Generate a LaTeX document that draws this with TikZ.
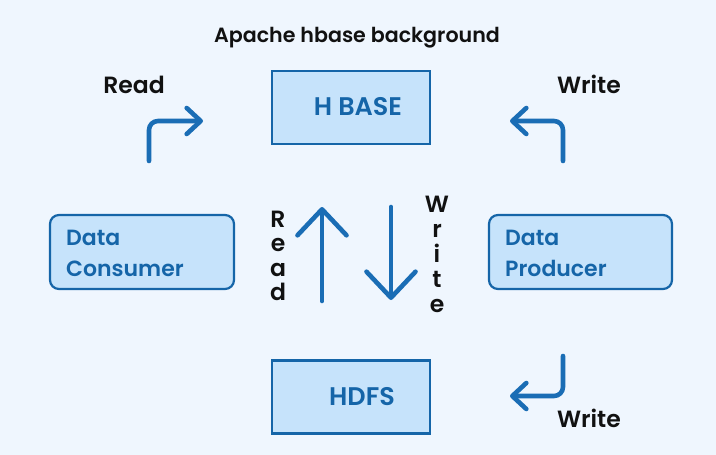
\documentclass[tikz,border=0pt]{standalone}
\usepackage{fontspec}
\setmainfont{Poppins}[BoldFont={Poppins SemiBold}]
\usetikzlibrary{arrows.meta}
\definecolor{bg}{HTML}{EFF6FE}
\definecolor{boxfill}{HTML}{C6E3FB}
\definecolor{boxline}{HTML}{1565A8}
\definecolor{arrowblue}{HTML}{1A6DB5}
\definecolor{inktext}{HTML}{111111}
\tikzset{
  sqbox/.style={draw=boxline, fill=boxfill, line width=2.2pt, minimum width=158pt, minimum height=73pt, inner sep=0pt},
  rndbox/.style={draw=boxline, fill=boxfill, line width=2.2pt, rounded corners=9pt},
  boxtext/.style={text=boxline, font=\fontsize{22}{22}\selectfont\bfseries, inner sep=0pt},
  bigboxtext/.style={text=boxline, font=\fontsize{25.5}{25.5}\selectfont\bfseries, inner sep=0pt},
  lbl/.style={text=inktext, font=\fontsize{23.5}{23.5}\selectfont\bfseries, inner sep=0pt},
  arr/.style={draw=arrowblue, line width=4.6pt, line cap=round, line join=round, rounded corners=9pt},
  smalltip/.style={-{Straight Barb[length=14pt,width=26pt,line cap=round,line join=round]}},
  bigtip/.style={-{Straight Barb[length=26pt,width=49pt,line cap=round,line join=round]}}
}
\begin{document}
\begin{tikzpicture}[x=1pt,y=-1pt]
\fill[bg] (0,0) rectangle (716,455);
\useasboundingbox (0,0) rectangle (716,455);

\node[text=inktext, font=\fontsize{20.6}{20.6}\selectfont\bfseries, anchor=base] (title) at (357,42) {Apache hbase background};

\node[sqbox] (hbase) at (351,107.5) {};
\node[bigboxtext, anchor=base] (hbasetxt) at (358,115) {H BASE};
\node[sqbox] (hdfs) at (351,397) {};
\node[bigboxtext, anchor=base] (hdfstxt) at (362,405) {HDFS};

\path[rndbox] (50,215) rectangle (234,289);
\coordinate (consumer) at (142,252);
\node[boxtext, anchor=base west] (c1) at (66,245) {Data};
\node[boxtext, anchor=base west] (c2) at (66,276) {Consumer};

\path[rndbox] (489,215) rectangle (672,289);
\coordinate (producer) at (580,252);
\node[boxtext, anchor=base west] (p1) at (505,245) {Data};
\node[boxtext, anchor=base west] (p2) at (505,276) {Producer};

\node[lbl, anchor=base] (readlbl) at (134,93) {Read};
\node[lbl, anchor=base] (writelbl) at (589,93) {Write};
\node[lbl, anchor=base] (writelbl2) at (589,427) {Write};

% corner arrows
\coordinate (a1s) at (149,161);
\coordinate (a1e) at (203,121);
\draw[arr, smalltip] (a1s) |- (a1e);
\coordinate (a2s) at (563,161);
\coordinate (a2e) at (510,121);
\draw[arr, smalltip] (a2s) |- (a2e);
\coordinate (a3s) at (563,356);
\coordinate (a3e) at (510,396);
\draw[arr, smalltip] (a3s) |- (a3e);

% middle arrows
\coordinate (upb) at (322,301);
\coordinate (upt) at (322,207);
\draw[arr, bigtip] (upb) -- (upt);
\coordinate (dnt) at (391,207);
\coordinate (dnb) at (391,300);
\draw[arr, bigtip] (dnt) -- (dnb);

% vertical labels
\foreach \ch [count=\i] in {R,e,a,d}
  \node[lbl, anchor=base] (rd\i) at (278,{227+24.5*(\i-1)}) {\ch};
\foreach \ch [count=\i] in {W,r,i,t,e}
  \node[lbl, anchor=base] (wr\i) at (437,{212+25.2*(\i-1)}) {\ch};
\end{tikzpicture}
\end{document}
